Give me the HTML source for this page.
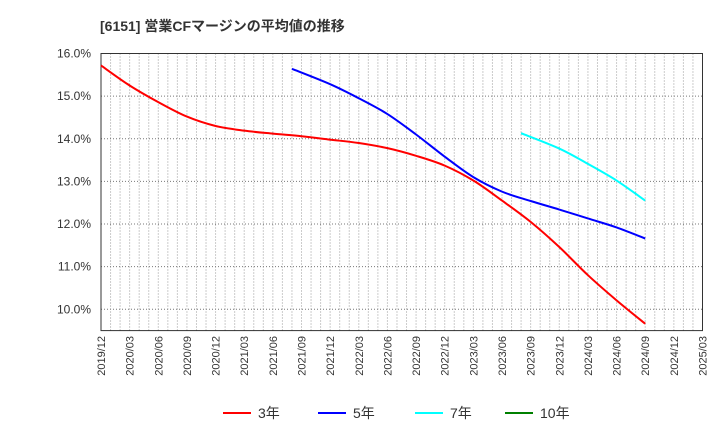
<!DOCTYPE html>
<html><head><meta charset="utf-8"><style>
body{margin:0;background:#fff;font-family:"Liberation Sans","Noto Sans CJK JP",sans-serif;}
svg text{font-family:"Liberation Sans","Noto Sans CJK JP",sans-serif;}
</style></head><body>
<svg id="c" width="720" height="440" xmlns="http://www.w3.org/2000/svg">
<text x="100" y="31" font-size="14" font-weight="bold" fill="#333">[6151]  営業CFマージンの平均値の推移</text>
<g id="grid"></g><g id="axes"></g><g id="series"></g><g id="legend"></g>
</svg>
<script>
const categories=["2019/12","2020/03","2020/06","2020/09","2020/12","2021/03","2021/06","2021/09","2021/12","2022/03","2022/06","2022/09","2022/12","2023/03","2023/06","2023/09","2023/12","2024/03","2024/06","2024/09","2024/12","2025/03"];
const yTicks=[10,11,12,13,14,15,16];
const s3Months=[0,3,6,9,12,15,18,21,24,27,30,33,36,39,42,45,48,51,54,57];
const s3=[15.72,15.25,14.86,14.52,14.30,14.19,14.12,14.06,13.98,13.9,13.78,13.6,13.37,13.02,12.55,12.05,11.46,10.80,10.21,9.66];
const s5Months=[20,24,27,30,33,36,39,42,45,48,51,54,57];
const s5=[15.64,15.28,14.95,14.58,14.1,13.58,13.1,12.76,12.54,12.34,12.13,11.92,11.66];
const s7Months=[44,48,51,54,57];
const s7=[14.13,13.77,13.41,13.02,12.55];
const s10Months=[];
const s10=[];
const L=101,R=702.5,T=53.5,B=330.6,yMin=9.5,yMax=16;
const NS="http://www.w3.org/2000/svg";
const totalMonths=(categories.length-1)*3;
const xm=m=>L+(R-L)*m/totalMonths;
const xq=i=>xm(i*3);
const yv=v=>B-(v-yMin)/(yMax-yMin)*(B-T);
function mk(tag,at,parent){const e=document.createElementNS(NS,tag);for(const k in at)e.setAttribute(k,at[k]);parent.appendChild(e);return e;}
const grid=document.getElementById('grid'),axes=document.getElementById('axes'),ser=document.getElementById('series'),leg=document.getElementById('legend');
for(let m=1;m<totalMonths;m++){const x=xm(m);
const l=mk('line',{x1:x,x2:x,y1:T,y2:B,stroke:'#999','stroke-width':1,'stroke-dasharray':'1,2'},grid);

}
yTicks.forEach(v=>{const y=yv(v);
const l=mk('line',{x1:L,x2:R,y1:y,y2:y,stroke:'#777','stroke-width':1,'stroke-dasharray':'1,2'},grid);


const t=mk('text',{x:91,y:y+4,'text-anchor':'end','font-size':12,fill:'#333'},axes);t.textContent=v.toFixed(1)+'%';

});
const fr=mk('rect',{x:L,y:T,width:R-L,height:B-T,fill:'none',stroke:'#333','stroke-width':1},axes);


categories.forEach((c,i)=>{const x=xq(i);
const t=mk('text',{transform:`translate(${x+4},336) rotate(-90)`,'text-anchor':'end','font-size':11,fill:'#333'},axes);t.textContent=c;

});
function path(ms,arr){const p=arr.map((v,i)=>[xm(ms[i]),yv(v)]);if(p.length<2)return '';
let d=`M${p[0][0]},${p[0][1]}`;for(let i=0;i<p.length-1;i++){const p0=p[Math.max(0,i-1)],p1=p[i],p2=p[i+1],p3=p[Math.min(p.length-1,i+2)];
const c1=[p1[0]+(p2[0]-p0[0])/6,p1[1]+(p2[1]-p0[1])/6],c2=[p2[0]-(p3[0]-p1[0])/6,p2[1]-(p3[1]-p1[1])/6];
d+=`C${c1[0]},${c1[1]} ${c2[0]},${c2[1]} ${p2[0]},${p2[1]}`;}return d;}
const series=[[s3Months,s3,'#ff0000','3年','series-3yr'],[s5Months,s5,'#0000ff','5年','series-5yr'],[s7Months,s7,'#00ffff','7年','series-7yr'],[s10Months,s10,'#008000','10年','series-10yr']];
series.forEach(([ms,a,col,name,dn])=>{const d=path(ms,a);if(d){const p=mk('path',{d:d,fill:'none',stroke:col,'stroke-width':2},ser);

}});
const lx=[223,318,415,505];
series.forEach(([ms,a,col,name,dn],i)=>{const g=mk('g',{},leg);


mk('line',{x1:lx[i],x2:lx[i]+28,y1:413,y2:413,stroke:col,'stroke-width':2},g);
const t=mk('text',{x:lx[i]+35,y:418,'font-size':14,fill:'#333'},g);t.textContent=name;});
</script>
</body></html>
